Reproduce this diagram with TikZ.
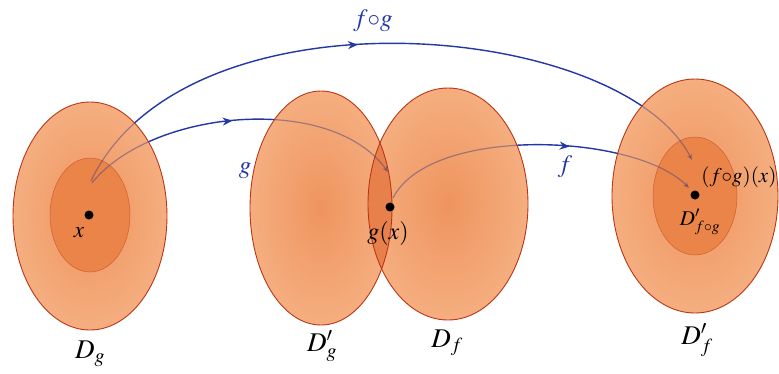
\documentclass[tikz,border=0pt]{standalone}
\usepackage{mathptmx}
\usetikzlibrary{arrows.meta,decorations.markings}
\definecolor{edgec}{RGB}{185,55,20}
\definecolor{outerc}{RGB}{245,174,128}
\definecolor{outerin}{RGB}{239,148,94}
\definecolor{innerc}{RGB}{234,132,72}
\definecolor{lensc}{RGB}{232,128,76}
\definecolor{arrc}{RGB}{35,55,165}
\definecolor{fadec}{RGB}{80,70,120}
\begin{document}
\begin{tikzpicture}[x=1pt,y=-1pt,
  outerset/.style={inner color=outerin, outer color=outerc},
  rim/.style={draw=edgec, line width=0.9pt},
  innerset/.style={fill=innerc, draw=edgec!50!innerc, line width=0.5pt},
  maparrow/.style={arrc, line width=1.4pt, -{Stealth[length=6pt,width=5pt]}},
  fadearrow/.style={fadec, line width=1.2pt, opacity=0.5, -{Stealth[length=6pt,width=5pt]}},
  midtip/.style={postaction={decorate}, decoration={markings, mark=at position #1 with {\arrow{Stealth[length=10pt,width=8pt]}}}},
  dot/.style={circle, fill=black, inner sep=0pt, minimum size=9pt},
  lbl/.style={font=\fontsize{27}{31}\selectfont, text=black},
  smlbl/.style={font=\fontsize{21}{25}\selectfont, text=black},
  maplbl/.style={font=\fontsize{25}{29}\selectfont, text=arrc},
]
\useasboundingbox (0,0) rectangle (779,373);
\fill[white] (0,0) rectangle (779,373);
% endpoints
\coordinate (gs) at (92,183); \coordinate (ge) at (388,172);
\coordinate (cs) at (91,181); \coordinate (ce) at (692,160);
\coordinate (fs) at (393,198); \coordinate (fe) at (689,188);
% full arrows (underneath)
\draw[maparrow, midtip=0.48] (gs) .. controls (150,110) and (330,92) .. (ge);
\draw[maparrow, midtip=0.46] (cs) .. controls (185,-17) and (620,20) .. (ce);
\draw[maparrow, midtip=0.6] (fs) .. controls (430,125) and (635,133) .. (fe);
% sets
\shade[outerset] (90,216) ellipse [x radius=77, y radius=114];
\shade[outerset] (321,208) ellipse [x radius=71, y radius=117];
\shade[outerset] (448,204) ellipse [x radius=80, y radius=116];
\shade[outerset] (695,196) ellipse [x radius=83, y radius=117];
\begin{scope}
  \clip (321,208) ellipse [x radius=71, y radius=117];
  \fill[lensc] (448,204) ellipse [x radius=80, y radius=116];
\end{scope}
\path[innerset] (90,215) ellipse [x radius=40, y radius=57];
\path[innerset] (695,196) ellipse [x radius=42, y radius=59];
\draw[rim] (90,216) ellipse [x radius=77, y radius=114];
\draw[rim] (321,208) ellipse [x radius=71, y radius=117];
\draw[rim] (448,204) ellipse [x radius=80, y radius=116];
\draw[rim] (695,196) ellipse [x radius=83, y radius=117];
% arrows seen through the sets
\begin{scope}
  \clip (90,216) ellipse [x radius=77, y radius=114]
        (321,208) ellipse [x radius=71, y radius=117]
        (448,204) ellipse [x radius=80, y radius=116]
        (695,196) ellipse [x radius=83, y radius=117];
  \draw[fadearrow] (gs) .. controls (150,110) and (330,92) .. (ge);
  \draw[fadearrow] (cs) .. controls (185,-17) and (620,20) .. (ce);
  \draw[fadearrow] (fs) .. controls (430,125) and (635,133) .. (fe);
\end{scope}
% points and labels
\node[dot] (x) at (89,215) {};
\node[dot] (gx) at (390,207) {};
\node[dot] (fgx) at (695,195) {};
\node[font=\fontsize{23}{27}\selectfont] (xl) at (79,233) {$x$};
\node[font=\fontsize{24}{28}\selectfont] (gxl) at (388,233) {$g(x)$};
\node[smlbl] (fgxl) at (739,177) {$(f{\circ}g)(x)$};
\node[smlbl] (Dfgl) at (700,222) {$D'_{f{\circ}g}$};
\node[lbl] (Dgl) at (90,354) {$D_g$};
\node[lbl] (Dgpl) at (322,346) {$D'_g$};
\node[lbl] (Dfl) at (447,343) {$D_f$};
\node[lbl] (Dfpl) at (697,340) {$D'_f$};
\node[maplbl] (gl) at (245,171) {$g$};
\node[maplbl] (fl) at (565,167) {$f$};
\node[maplbl] (fgl) at (373,21) {$f{\circ}g$};
\end{tikzpicture}
\end{document}
